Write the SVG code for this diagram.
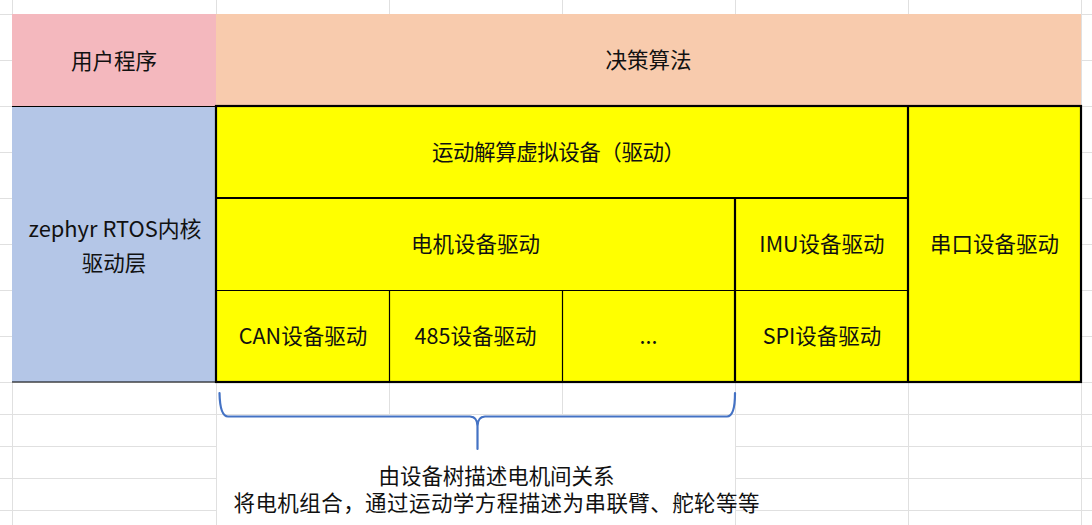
<svg xmlns="http://www.w3.org/2000/svg" width="1092" height="525" viewBox="0 0 1092 525">
  <style>
    .grid { stroke: #e0e0e0; stroke-width: 1; fill: none; }
    .t { font-family: "Noto Sans CJK SC", "Noto Sans", sans-serif; font-size: 21.5px; fill: #111; text-anchor: middle; }
    .thick { stroke: #000; stroke-width: 2.2; fill: none; }
    .thin { stroke: #000; stroke-width: 1.2; fill: none; }
  </style>
  <rect x="0" y="0" width="1092" height="525" fill="#ffffff"/>
  <g id="gridlines">
    <path class="grid" d="M12.5,0V525 M216.5,0V525 M735.5,0V525 M908.5,0V525 M1081.5,0V525 M389.5,0V14 M562.5,0V14 M389.5,382V414 M562.5,382V414"/>
    <path class="grid" d="M0,14.5H1092 M0,60.5H12 M1081,60.5H1092 M0,106.5H12 M1081,106.5H1092 M0,152.5H12 M1081,152.5H1092 M0,198.5H12 M1081,198.5H1092 M0,244.5H12 M1081,244.5H1092 M0,290.5H12 M1081,290.5H1092 M0,336.5H12 M1081,336.5H1092 M0,382.5H1092 M0,414.5H1092 M0,446.5H216 M735,446.5H1092 M0,478.5H216 M735,478.5H1092 M0,510.5H216 M735,510.5H1092"/>
  </g>
  <g id="user-program">
    <rect x="12" y="14" width="204" height="92" fill="#f4b8be"/>
    <text class="t" x="114" y="69">用户程序</text>
  </g>
  <g id="decision-algorithm">
    <rect x="216" y="14" width="865" height="92" fill="#f8cbad"/>
    <text class="t" x="648.5" y="68">决策算法</text>
  </g>
  <g id="zephyr-layer">
    <rect x="12" y="106" width="204" height="276" fill="#b4c6e7"/>
    <path class="thin" d="M12,106.5H216 M12,382H216"/>
    <text class="t" x="115" y="237" textLength="173" lengthAdjust="spacingAndGlyphs">zephyr RTOS内核</text>
    <text class="t" x="114" y="271">驱动层</text>
  </g>
  <g id="yellow-area">
    <rect x="216" y="106" width="865" height="276" fill="#ffff00"/>
  </g>
  <g id="kinematics-virtual-device">
    <text class="t" x="558.5" y="160" textLength="253" lengthAdjust="spacing">运动解算虚拟设备（驱动）</text>
  </g>
  <g id="motor-driver">
    <text class="t" x="475.5" y="252">电机设备驱动</text>
  </g>
  <g id="imu-driver">
    <text class="t" x="822" y="252">IMU设备驱动</text>
  </g>
  <g id="serial-driver">
    <text class="t" x="994.5" y="252">串口设备驱动</text>
  </g>
  <g id="can-driver">
    <text class="t" x="303" y="344">CAN设备驱动</text>
  </g>
  <g id="rs485-driver">
    <text class="t" x="475.5" y="344">485设备驱动</text>
  </g>
  <g id="more-drivers">
    <text class="t" x="648.5" y="344">...</text>
  </g>
  <g id="spi-driver">
    <text class="t" x="822" y="344">SPI设备驱动</text>
  </g>
  <g id="borders">
    <path class="thin" d="M216,290.5H908 M389.5,290.5V382 M562.5,290.5V382"/>
    <path class="thick" d="M216,198H908 M735,198V382 M908,106V382"/>
    <rect class="thick" x="216" y="106" width="865" height="276"/>
  </g>
  <g id="connectors">
    <path d="M219.5,393 Q220,416.5 228,416.5 H470 Q477.5,417 477.5,426 V449 M477.5,426 Q477.5,417 485,416.5 H727 Q735,416.5 735,393" fill="none" stroke="#4472c4" stroke-width="2.2" stroke-linecap="round"/>
  </g>
  <g id="annotation">
    <text class="t" x="496.5" y="484" textLength="236" lengthAdjust="spacing">由设备树描述电机间关系</text>
    <text class="t" x="496.5" y="510.5" textLength="526" lengthAdjust="spacing">将电机组合，通过运动学方程描述为串联臂、舵轮等等</text>
  </g>
</svg>
